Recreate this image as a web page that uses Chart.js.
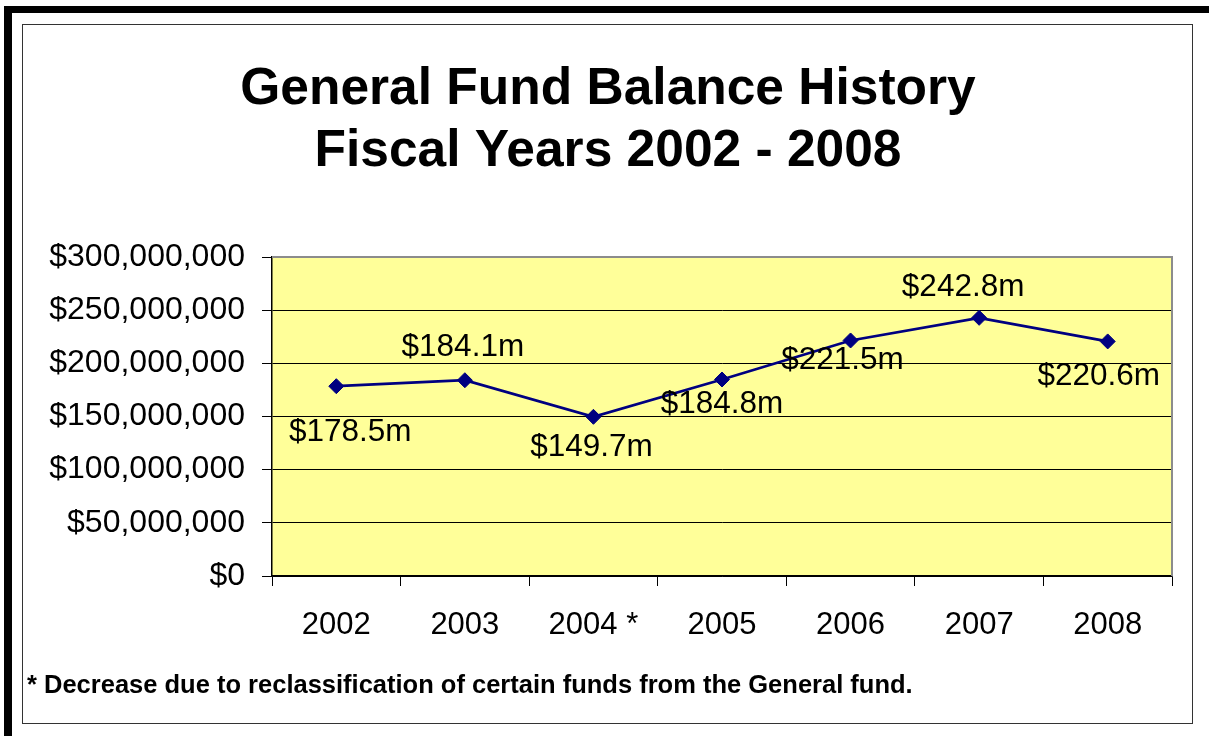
<!DOCTYPE html>
<html>
<head>
<meta charset="utf-8">
<script src="https://cdn.jsdelivr.net/npm/chart.js@4/dist/chart.umd.min.js"></script>
<style>
  html, body { margin: 0; padding: 0; background: #fff; overflow: hidden; }
  #outer { position: absolute; left: 4px; top: 6px; width: 1215px; height: 760px; box-sizing: border-box;
           border-style: solid; border-color: #000; border-width: 7px 8px; }
  #inner { position: absolute; left: 22px; top: 24px; width: 1171px; height: 700px; box-sizing: border-box;
           border: 1px solid #333; }
  #note { position: absolute; left: 27px; top: 669px; font: bold 25.5px "Liberation Sans", Arial, sans-serif;
          line-height: 30px; color: #000; white-space: nowrap; }
  #c { position: absolute; left: 0; top: 0; }
</style>
</head>
<body>
<div id="outer"></div>
<div id="inner"></div>
<canvas id="c" width="1209" height="736"></canvas>
<div id="note">* Decrease due to reclassification of certain funds from the General fund.</div>
<script>
// ---- data ----
const titleLines = ['General Fund Balance History', 'Fiscal Years 2002 - 2008'];
const years = ['2002', '2003', '2004 *', '2005', '2006', '2007', '2008'];
const balances = [178.5e6, 184.1e6, 149.7e6, 184.8e6, 221.5e6, 242.8e6, 220.6e6];
const balanceLabels = ['$178.5m', '$184.1m', '$149.7m', '$184.8m', '$221.5m', '$242.8m', '$220.6m'];
const yMin = 0, yMax = 300000000, yStep = 50000000;

// label placement (pixel offsets from each point, not data)
const labelOffsets = [[14, 46], [-2, -33], [-2, 30], [0, 25], [-8, 20], [-16, -31], [-9, 35]];

const FONT = '"Liberation Sans", Arial, sans-serif';

const plotBg = {
  id: 'plotBg',
  beforeDraw(chart) {
    const { ctx, chartArea: a } = chart;
    ctx.save();
    ctx.fillStyle = '#FFFF99';
    ctx.fillRect(a.left, a.top, a.right - a.left, a.bottom - a.top);
    ctx.restore();
  },
  afterDatasetsDraw(chart) {
    const { ctx, chartArea: a } = chart;
    ctx.save();
    ctx.strokeStyle = '#8c8c8c';
    ctx.lineWidth = 2;
    ctx.beginPath();
    ctx.moveTo(a.left, a.top);
    ctx.lineTo(a.right, a.top);
    ctx.lineTo(a.right, a.bottom);
    ctx.stroke();
    // data labels
    const meta = chart.getDatasetMeta(0);
    ctx.fillStyle = '#000';
    ctx.font = '31.5px ' + FONT;
    ctx.textAlign = 'center';
    ctx.textBaseline = 'middle';
    meta.data.forEach((pt, i) => {
      const off = labelOffsets[i];
      ctx.fillText(balanceLabels[i], pt.x + off[0], pt.y + off[1]);
    });
    ctx.restore();
  }
};

new Chart(document.getElementById('c'), {
  type: 'line',
  data: {
    labels: years,
    datasets: [{
      data: balances,
      borderColor: '#000080',
      borderWidth: 2.75,
      backgroundColor: '#000080',
      pointStyle: 'rectRot',
      pointRadius: 7.5,
      pointBorderWidth: 1,
      pointBackgroundColor: '#000080',
      pointBorderColor: '#000080',
      tension: 0,
      fill: false
    }]
  },
  options: {
    responsive: false,
    animation: false,
    devicePixelRatio: 1,
    layout: { padding: { left: 44, right: 37, top: 0, bottom: 100 } },
    plugins: {
      legend: { display: false },
      tooltip: { enabled: false },
      title: {
        display: true,
        text: titleLines,
        color: '#000',
        font: { family: FONT, size: 51.5, weight: 'bold', lineHeight: 62 / 51.5 },
        padding: { top: 59, bottom: 74 }
      }
    },
    scales: {
      x: {
        type: 'category',
        offset: true,
        grid: { offset: true, drawOnChartArea: false, drawTicks: true, tickLength: 10, color: '#000', lineWidth: 1 },
        border: { display: true, color: '#000', width: 1.5 },
        ticks: { color: '#000', font: { family: FONT, size: 31 }, padding: 21, maxRotation: 0, autoSkip: false },
        afterFit(s) { s.height = 60; }
      },
      y: {
        min: yMin,
        max: yMax,
        grid: { color: '#000', lineWidth: 1, tickLength: 10, drawTicks: true },
        border: { display: true, color: '#000', width: 1.5 },
        ticks: {
          stepSize: yStep,
          color: '#000',
          padding: 17,
          font: { family: FONT, size: 32 },
          callback: v => '$' + Number(v).toLocaleString('en-US')
        },
        afterFit(s) { s.width = 228; }
      }
    }
  },
  plugins: [plotBg]
});
</script>
</body>
</html>
